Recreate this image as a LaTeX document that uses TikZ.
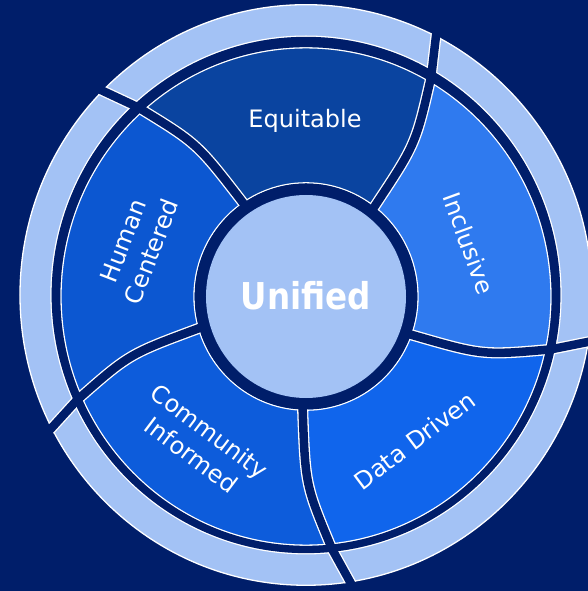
\documentclass[tikz,border=0pt]{standalone}
\usepackage{fontspec}
\newfontfamily\dv{DejaVu Sans}
\newfontfamily\dvb{DejaVu Sans Bold}[FakeStretch=0.88]
\definecolor{navy}{HTML}{001E6A}
\definecolor{lightc}{HTML}{A3C2F5}
\definecolor{eqc}{HTML}{0A44A0}
\definecolor{humc}{HTML}{0C57D1}
\definecolor{comc}{HTML}{0D5CDB}
\definecolor{datc}{HTML}{1065EC}
\definecolor{incc}{HTML}{2F7AEF}
\begin{document}
\begin{tikzpicture}[x=1pt,y=1pt,
  txt/.style={text=white, font=\dv\fontsize{24}{30}\selectfont, align=center, inner sep=0pt},
  whiteline/.style={draw=white, line width=1.3pt},
  bndwhite/.style={draw=white, line width=11.1pt},
  bndnavy/.style={draw=navy, line width=8.5pt}]
\useasboundingbox (-306,-294.5) rectangle (282,296.5);
\fill[navy] (-306,-294.5) rectangle (282,296.5);
\begin{scope}[yscale=1.015]
  % outer light ring (slightly offset upwards)
  \coordinate (rc) at (0,1.5);
  \fill[lightc] (rc) circle[radius=286];
  % coloured sectors
  \begin{scope}
    \clip (0,0) circle[radius=245];
    \foreach \a/\c in {52.3/eqc,124.3/humc,196.3/comc,268.3/datc,340.3/incc}{
      \fill[\c] ({\a-0.7}:95) -- (\a:112) .. controls ({\a+1.5}:185.8) .. ({\a+7.7}:250.5) -- ({\a+11.7}:300)
        arc[start angle=\a+11.7, end angle=\a+83.7, radius=300]
        -- ({\a+79.7}:250.5) .. controls ({\a+73.5}:185.8) .. ({\a+72}:112) -- ({\a+71.3}:95) -- cycle;
    }
  \end{scope}
  % white outlines
  \draw[whiteline] (rc) circle[radius=286];
  \draw[whiteline] (rc) circle[radius=255];
  \draw[whiteline] (0,0) circle[radius=245];
  \draw[whiteline] (0,0) circle[radius=112];
  \begin{scope}
    \clip (rc) circle[radius=286.65];
    \foreach \a in {52.3,124.3,196.3,268.3,340.3}{
      \draw[bndwhite] ({\a-0.7}:95) -- (\a:112) .. controls ({\a+1.5}:185.8) .. ({\a+7.7}:250.5) -- ({\a+11.7}:300);
    }
  \end{scope}
  % navy gaps
  \fill[navy, even odd rule] (rc) circle[radius=254.35] (0,0) circle[radius=245.65];
  \foreach \a in {52.3,124.3,196.3,268.3,340.3}{
    \draw[bndnavy] ({\a-0.7}:95) -- (\a:112) .. controls ({\a+1.5}:185.8) .. ({\a+7.7}:250.5) -- ({\a+11.7}:300);
  }
  \fill[navy] (0,0) circle[radius=111.35];
  \fill[lightc] (0,0) circle[radius=100];
\end{scope}
% texts
\node[txt, font=\dvb\fontsize{37}{44}\selectfont, anchor=base] (uni) at (0,-13.5) {Unified};
\node[txt, anchor=base] (equ) at (-1,169) {Equitable};
\node[txt, rotate=-70] (inc) at (163,53) {Inclusive};
\node[txt, rotate=37] (dat) at (108.5,-144) {Data Driven};
\node[txt, rotate=-37] (com) at (-105.5,-146.5) {Community\\Informed};
\node[txt, rotate=69] (hum) at (-168.5,50) {Human\\Centered};
\end{tikzpicture}
\end{document}
